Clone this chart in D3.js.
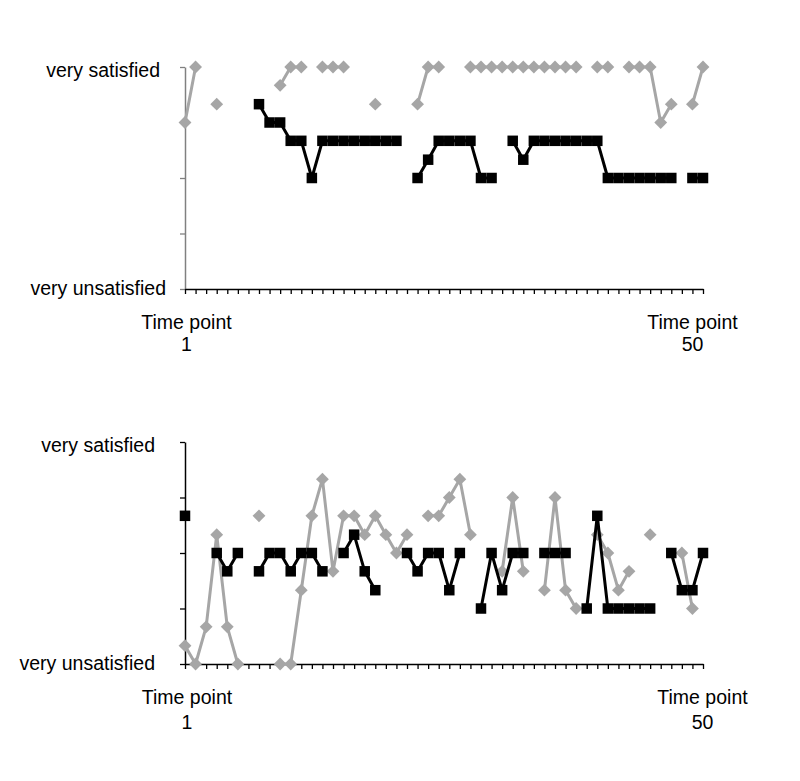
<!DOCTYPE html>
<html>
<head>
<meta charset="utf-8">
<script src="https://cdn.jsdelivr.net/npm/d3@7"></script>
<style>
  body { margin: 0; background: #fff; }
  text { font-family: "Liberation Sans", Arial, sans-serif; }
</style>
</head>
<body>
<svg id="chart" width="800" height="781"></svg>
<script>
// ---- data (0 = very unsatisfied ... 4 = very satisfied), null = missing ----
const timePoints = d3.range(1, 51);
const yTickValues = [0, 1, 2, 3, 4];
const yTickLabels = { 0: "very unsatisfied", 4: "very satisfied" };
const xLabelTitle = "Time point";
const xLabelFirst = "1";
const xLabelLast = "50";

const topGray = [3, 4, null, 3.33, null, null, null, null, null, 3.67,
  4, 4, null, 4, 4, 4, null, null, 3.33, null,
  null, null, 3.33, 4, 4, null, null, 4, 4, 4,
  4, 4, 4, 4, 4, 4, 4, 4, null, 4,
  4, null, 4, 4, 4, 3, 3.33, null, 3.33, 4];
const topBlack = [null, null, null, null, null, null, null, 3.33, 3, 3,
  2.67, 2.67, 2, 2.67, 2.67, 2.67, 2.67, 2.67, 2.67, 2.67,
  2.67, null, 2, 2.33, 2.67, 2.67, 2.67, 2.67, 2, 2,
  null, 2.67, 2.33, 2.67, 2.67, 2.67, 2.67, 2.67, 2.67, 2.67,
  2, 2, 2, 2, 2, 2, 2, null, 2, 2];
const bottomGray = [0.33, 0, 0.67, 2.33, 0.67, 0, null, 2.67, null, 0,
  0, 1.33, 2.67, 3.33, 1.67, 2.67, 2.67, 2.33, 2.67, 2.33,
  2, 2.33, null, 2.67, 2.67, 3, 3.33, 2.33, null, null,
  1.67, 3, 1.67, null, 1.33, 3, 1.33, 1, null, 2.33,
  2, 1.33, 1.67, null, 2.33, null, null, 2, 1, null];
const bottomBlack = [2.67, null, null, 2, 1.67, 2, null, 1.67, 2, 2,
  1.67, 2, 2, 1.67, null, 2, 2.33, 1.67, 1.33, null,
  null, 2, 1.67, 2, 2, 1.33, 2, null, 1, 2,
  1.33, 2, 2, null, 2, 2, 2, null, 1, 2.67,
  1, 1, 1, 1, 1, null, 2, 1.33, 1.33, 2];

const GRAY = "#a6a6a6", BLACK = "#000000";
const FS = 19.5;
const svg = d3.select("#chart");

const x = d3.scaleLinear().domain([1, 50]).range([185, 703]);

const panels = [
  { gray: topGray, black: topBlack, y0: 289, y1: 67, yAxisColor: "#808080",
    satX: 160, satBase: 77, unsatX: 166, unsatBase: 295,
    titleY: 329, numY: 351, leftX: 186.5, rightX: 692.5 },
  { gray: bottomGray, black: bottomBlack, y0: 664, y1: 442, yAxisColor: "#000",
    satX: 155, satBase: 452, unsatX: 155, unsatBase: 670,
    titleY: 704, numY: 729, leftX: 187, rightX: 702.5 }
];

panels.forEach(p => {
  const y = d3.scaleLinear().domain([0, 4]).range([p.y0, p.y1]);
  const g = svg.append("g");

  // y axis
  const ya = g.append("g").attr("transform", `translate(${x(1)},0)`)
    .call(d3.axisLeft(y).tickValues(yTickValues).tickSize(5).tickSizeOuter(0).tickFormat(""));
  ya.select(".domain").attr("stroke", p.yAxisColor).attr("stroke-width", 1.5);
  ya.selectAll(".tick line").attr("stroke", p.yAxisColor).attr("stroke-width", 1.3);

  // x axis
  const xa = g.append("g").attr("transform", `translate(0,${p.y0})`)
    .call(d3.axisBottom(x).tickValues(timePoints).tickSize(5).tickSizeOuter(0).tickFormat(""));
  xa.select(".domain").attr("stroke", "#000").attr("stroke-width", 1.5);
  xa.selectAll(".tick line").attr("stroke", "#000").attr("stroke-width", 1.3);

  // y labels
  g.append("text").attr("x", p.satX).attr("y", p.satBase)
    .attr("text-anchor", "end").attr("font-size", FS).text(yTickLabels[4]);
  g.append("text").attr("x", p.unsatX).attr("y", p.unsatBase)
    .attr("text-anchor", "end").attr("font-size", FS).text(yTickLabels[0]);

  // x labels
  [[p.leftX, xLabelFirst], [p.rightX, xLabelLast]].forEach(([cx, num]) => {
    g.append("text").attr("x", cx).attr("y", p.titleY).attr("text-anchor", "middle")
      .attr("font-size", FS).text(xLabelTitle);
    g.append("text").attr("x", cx).attr("y", p.numY).attr("text-anchor", "middle")
      .attr("font-size", FS).text(num);
  });

  const line = d3.line().defined(d => d.v !== null).x(d => x(d.t)).y(d => y(d.v));

  // gray series (diamonds)
  const grayData = p.gray.map((v, i) => ({ t: timePoints[i], v }));
  g.append("path").datum(grayData).attr("d", line).attr("fill", "none")
    .attr("stroke", GRAY).attr("stroke-width", 3).attr("stroke-linejoin", "round");
  g.selectAll(".dia").data(grayData.filter(d => d.v !== null)).enter()
    .append("path").attr("class", "dia")
    .attr("d", d3.symbol().type(d3.symbolDiamond2).size(105))
    .attr("transform", d => `translate(${x(d.t)},${y(d.v)})`)
    .attr("fill", GRAY);

  // black series (squares)
  const blackData = p.black.map((v, i) => ({ t: timePoints[i], v }));
  g.append("path").datum(blackData).attr("d", line).attr("fill", "none")
    .attr("stroke", BLACK).attr("stroke-width", 3).attr("stroke-linejoin", "round");
  g.selectAll(".sq").data(blackData.filter(d => d.v !== null)).enter()
    .append("rect").attr("class", "sq")
    .attr("x", d => x(d.t) - 5.25).attr("y", d => y(d.v) - 5.25)
    .attr("width", 10.5).attr("height", 10.5).attr("fill", BLACK);
});
</script>
</body>
</html>
